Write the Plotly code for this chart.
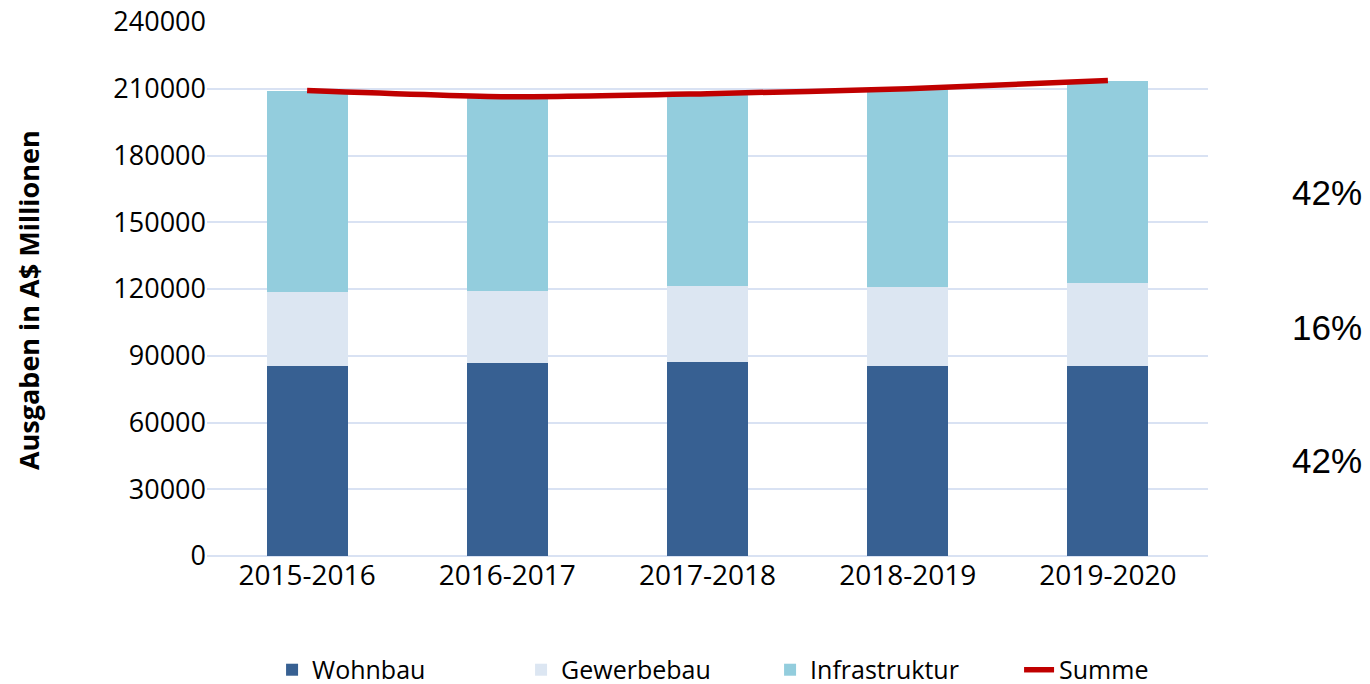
import plotly.graph_objects as go

years = ["2015-2016", "2016-2017", "2017-2018", "2018-2019", "2019-2020"]
wohnbau = [85400, 86600, 87100, 85400, 85400]
gewerbebau = [33100, 32500, 34400, 35500, 37200]
infrastruktur = [90700, 87300, 86300, 89100, 91100]
summe = [209200, 206400, 207800, 210000, 213700]
y_ticks = [0, 30000, 60000, 90000, 120000, 150000, 180000, 210000, 240000]
share_labels = ["42%", "16%", "42%"]
share_pos = [0.680, 0.427, 0.178]

font_axis = "Open Sans"

fig = go.Figure()
fig.add_trace(go.Bar(name="Wohnbau", x=years, y=wohnbau, marker=dict(color="#376092", line=dict(width=0))))
fig.add_trace(go.Bar(name="Gewerbebau", x=years, y=gewerbebau, marker=dict(color="#DCE6F2", line=dict(width=0))))
fig.add_trace(go.Bar(name="Infrastruktur", x=years, y=infrastruktur, marker=dict(color="#93CDDD", line=dict(width=0))))
fig.add_trace(go.Scatter(name="Summe", x=years, y=summe, mode="lines",
                         line=dict(color="#C00000", width=5.5, shape="spline", smoothing=0.6)))

for lab, pos in zip(share_labels, share_pos):
    fig.add_annotation(text=lab, xref="paper", yref="paper", x=1.119, y=pos,
                       xanchor="center", yanchor="middle",
                       showarrow=False, font=dict(family="Liberation Sans", size=35, color="#000000"))

fig.add_annotation(text="<b>Ausgaben in A$ Millionen</b>", xref="paper", yref="paper",
                   x=-0.179, y=0.479, xanchor="center", yanchor="middle", textangle=-90,
                   showarrow=False, font=dict(family=font_axis, size=27, color="#000000"))

fig.update_layout(
    width=1370, height=700,
    barmode="stack", bargap=0.595,
    plot_bgcolor="white", paper_bgcolor="white",
    margin=dict(l=207, r=162, t=22, b=144),
    font=dict(family=font_axis, size=27, color="#000000"),
    legend=dict(orientation="h", x=0.065, xanchor="left", yref="container", y=0.0429, yanchor="middle",
                font=dict(family=font_axis, size=25), tracegroupgap=0,
                entrywidthmode="pixels", entrywidth=204,
                traceorder="normal"),
    xaxis=dict(showgrid=False, showline=False, ticks="", tickfont=dict(size=28), automargin=False),
    yaxis=dict(range=[0, 240000], tickvals=y_ticks, tickformat="d", automargin=False,
               ticklabeloverflow="allow",
               showgrid=True, gridcolor="#D9E2F3", gridwidth=1.5,
               zeroline=True, zerolinecolor="#D9E2F3", zerolinewidth=1.5,
               showline=False, ticks="", tickfont=dict(size=27)),
)
fig.write_html("out.html", config={"displayModeBar": False},
               post_script="document.body.style.margin='0';document.body.style.overflow='hidden';")
